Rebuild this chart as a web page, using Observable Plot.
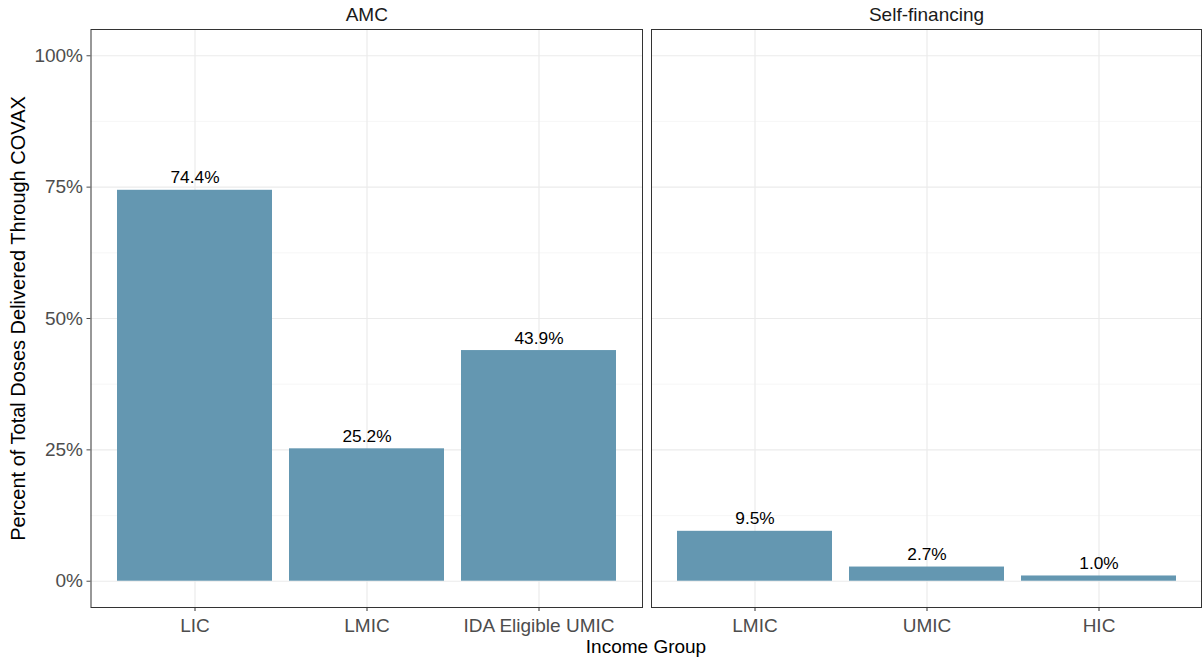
<!DOCTYPE html>
<html>
<head>
<meta charset="utf-8">
<script src="https://cdn.jsdelivr.net/npm/d3@7"></script>
<script src="https://cdn.jsdelivr.net/npm/@observablehq/plot@0.6"></script>
<style>
  html, body { margin: 0; padding: 0; background: #fff; }
  #wrap { position: relative; width: 1203px; height: 657px; font-family: "Liberation Sans", Arial, sans-serif; }
  #left { position: absolute; left: 0; top: 0; }
  #right { position: absolute; left: 646px; top: 0; }
  #xtitle { position: absolute; left: 0; width: 1292px; top: 637px; line-height: 19px; text-align: center; font-size: 19px; color: #000; }
</style>
</head>
<body>
<div id="wrap">
  <div id="left"></div>
  <div id="right"></div>
  <div id="xtitle">Income Group</div>
</div>
<script>
const panelNames = ["AMC", "Self-financing"];
const amcCategories = ["LIC", "LMIC", "IDA Eligible UMIC"];
const amcValues = [74.4, 25.2, 43.9];
const selfCategories = ["LMIC", "UMIC", "HIC"];
const selfValues = [9.5, 2.7, 1.0];
const yTicks = [0, 25, 50, 75, 100];
const yMinorTicks = [12.5, 37.5, 62.5, 87.5];
const yTitle = "Percent of Total Doses Delivered Through COVAX";

const barColor = "#6497B1";
const H = 657;

function panel(cats, vals, name, opts) {
  const data = cats.map((c, i) => ({cat: c, value: vals[i]}));
  const marks = [
    Plot.gridY(yMinorTicks, {stroke: "#F3F3F3", strokeOpacity: 1, strokeWidth: 0.7}),
    Plot.gridY(yTicks, {stroke: "#EBEBEB", strokeOpacity: 1, strokeWidth: 1.2}),
    Plot.gridX(cats, {stroke: "#EBEBEB", strokeOpacity: 1, strokeWidth: 1.2}),
    Plot.barY(data, {x: "cat", y: "value", fill: barColor}),
    Plot.text(data, {x: "cat", y: "value", text: d => d.value.toFixed(1) + "%", lineAnchor: "bottom", dy: -7, fill: "#000", fontSize: 17.3}),
    Plot.frame({stroke: "#333333", strokeWidth: 1}),
    Plot.text([name], {frameAnchor: "top", dy: -9, lineAnchor: "bottom", fill: "#1A1A1A", fontSize: 19}),
    Plot.axisX({tickSize: 4, tickPadding: 6.5, fontSize: 19, color: "#4D4D4D", stroke: "#333", label: null})
  ];
  if (opts.yAxis) {
    marks.push(Plot.axisY(yTicks, {tickSize: 4, tickPadding: 4, fontSize: 19, tickFormat: d => d + "%", color: "#4D4D4D", label: null}));
    marks.push(Plot.text([yTitle], {frameAnchor: "left", rotate: -90, textAnchor: "middle", lineAnchor: "middle", dx: -72.5, fill: "#000", fontSize: 20}));
  }
  return Plot.plot({
    width: opts.width,
    height: H,
    marginLeft: opts.ml,
    marginRight: opts.mr,
    marginTop: 29,
    marginBottom: H - 607,
    style: {fontFamily: "Liberation Sans, Arial, sans-serif", fontSize: "19px", background: "#fff", overflow: "visible"},
    x: {domain: cats, paddingInner: 0.1, paddingOuter: 0.145, axis: null},
    y: {domain: [-5, 105], axis: null},
    marks
  });
}

document.getElementById("left").appendChild(panel(amcCategories, amcValues, panelNames[0], {width: 646, ml: 90.5, mr: 4, yAxis: true}));
document.getElementById("right").appendChild(panel(selfCategories, selfValues, panelNames[1], {width: 557, ml: 5, mr: 2, yAxis: false}));
</script>
</body>
</html>
